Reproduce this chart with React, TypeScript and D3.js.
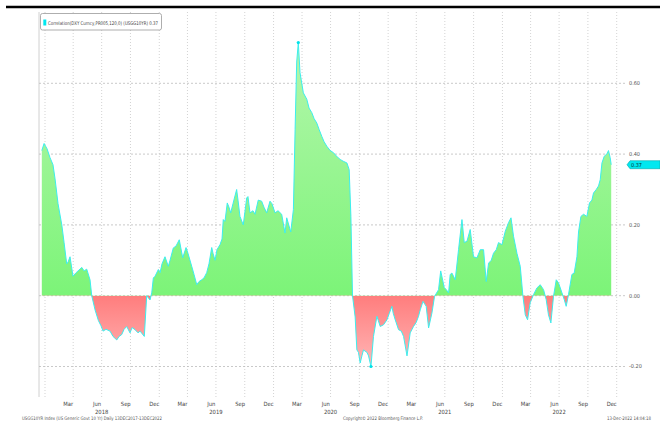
import React from 'react'
import * as d3 from 'd3'

const dates = [
  2017.972, 2017.992, 2018.018, 2018.044, 2018.07, 2018.088, 2018.114, 2018.147, 2018.167, 2018.19,
  2018.202, 2018.219, 2018.245, 2018.272, 2018.289, 2018.322, 2018.342, 2018.365, 2018.394, 2018.409,
  2018.438, 2018.467, 2018.49, 2018.508, 2018.534, 2018.569, 2018.595, 2018.628, 2018.648, 2018.671,
  2018.692, 2018.715, 2018.744, 2018.762, 2018.788, 2018.814, 2018.832, 2018.869, 2018.89, 2018.919,
  2018.934, 2018.948, 2018.963, 2018.992, 2019.007, 2019.024, 2019.05, 2019.079, 2019.094, 2019.123,
  2019.146, 2019.175, 2019.205, 2019.234, 2019.251, 2019.284, 2019.304, 2019.328, 2019.348, 2019.371,
  2019.391, 2019.415, 2019.435, 2019.459, 2019.47, 2019.488, 2019.505, 2019.531, 2019.549, 2019.56,
  2019.575, 2019.595, 2019.61, 2019.625, 2019.645, 2019.677, 2019.689, 2019.706, 2019.735, 2019.765,
  2019.776, 2019.794, 2019.82, 2019.838, 2019.866, 2019.896, 2019.916, 2019.94, 2019.969, 2019.986,
  2020.013, 2020.039, 2020.071, 2020.1, 2020.115, 2020.15, 2020.173, 2020.188, 2020.202, 2020.216,
  2020.231, 2020.26, 2020.29, 2020.31, 2020.334, 2020.354, 2020.377, 2020.397, 2020.421, 2020.441,
  2020.465, 2020.494, 2020.523, 2020.546, 2020.581, 2020.607, 2020.64, 2020.66, 2020.675, 2020.689,
  2020.712, 2020.727, 2020.741, 2020.756, 2020.771, 2020.785, 2020.8, 2020.815, 2020.829, 2020.85,
  2020.872, 2020.902, 2020.914, 2020.931, 2020.96, 2020.99, 2021.01, 2021.033, 2021.045, 2021.062,
  2021.091, 2021.115, 2021.135, 2021.165, 2021.193, 2021.222, 2021.246, 2021.266, 2021.281, 2021.305,
  2021.333, 2021.354, 2021.383, 2021.406, 2021.441, 2021.46, 2021.491, 2021.509, 2021.529, 2021.543,
  2021.558, 2021.587, 2021.616, 2021.646, 2021.666, 2021.69, 2021.718, 2021.747, 2021.777, 2021.806,
  2021.835, 2021.858, 2021.879, 2021.902, 2021.922, 2021.946, 2021.966, 2021.996, 2022.025, 2022.053,
  2022.075, 2022.097, 2022.127, 2022.156, 2022.179, 2022.2, 2022.22, 2022.243, 2022.272, 2022.302,
  2022.331, 2022.36, 2022.383, 2022.403, 2022.424, 2022.447, 2022.471, 2022.491, 2022.521, 2022.541,
  2022.558, 2022.578, 2022.608, 2022.628, 2022.652, 2022.666, 2022.687, 2022.71, 2022.739, 2022.762,
  2022.783, 2022.797, 2022.821, 2022.841, 2022.856, 2022.871, 2022.891, 2022.914, 2022.928, 2022.943,
  2022.952,
]

const values = [
  0.41, 0.43, 0.415, 0.39, 0.37, 0.33, 0.26, 0.2, 0.15, 0.09,
  0.095, 0.11, 0.055, 0.065, 0.07, 0.08, 0.07, 0.075, 0.045, 0.0,
  -0.04, -0.07, -0.085, -0.1, -0.095, -0.1, -0.115, -0.125, -0.115, -0.11,
  -0.095, -0.087, -0.105, -0.09, -0.096, -0.105, -0.1, -0.115, 0.0, -0.012,
  0.008, 0.05, 0.055, 0.074, 0.065, 0.09, 0.11, 0.083, 0.1, 0.135,
  0.14, 0.158, 0.107, 0.136, 0.12, 0.083, 0.06, 0.031, 0.04, 0.045,
  0.05, 0.065, 0.09, 0.136, 0.12, 0.1, 0.13, 0.144, 0.16, 0.215,
  0.21, 0.262, 0.25, 0.234, 0.26, 0.3, 0.27, 0.224, 0.2, 0.276,
  0.28, 0.234, 0.24, 0.23, 0.27, 0.267, 0.25, 0.234, 0.267, 0.26,
  0.234, 0.24, 0.23, 0.177, 0.22, 0.18, 0.243, 0.47, 0.66, 0.715,
  0.63, 0.573, 0.555, 0.53, 0.517, 0.5, 0.488, 0.47, 0.45, 0.435,
  0.422, 0.41, 0.404, 0.395, 0.385, 0.38, 0.375, 0.356, 0.224, 0.0,
  -0.06, -0.153, -0.16, -0.19, -0.17, -0.153, -0.157, -0.16, -0.17, -0.2,
  -0.115, -0.058, -0.07, -0.087, -0.082, -0.068, -0.05, -0.03, -0.05, -0.068,
  -0.096, -0.1, -0.115, -0.17, -0.105, -0.087, -0.075, -0.058, -0.04, -0.016,
  -0.03, -0.091, -0.049, -0.002, 0.017, 0.07, 0.023, 0.017, 0.008, 0.06,
  0.064, 0.045, 0.13, 0.215, 0.15, 0.154, 0.187, 0.11, 0.107, 0.13,
  0.13, 0.04, 0.092, 0.1, 0.12, 0.13, 0.15, 0.144, 0.182, 0.206,
  0.22, 0.168, 0.12, 0.083, 0.0, -0.054, -0.068, -0.02, 0.003, 0.022,
  0.031, 0.017, -0.011, -0.054, -0.077, -0.002, 0.045, 0.036, 0.008, -0.011,
  -0.03, 0.003, 0.06, 0.064, 0.11, 0.18, 0.224, 0.23, 0.224, 0.262,
  0.27, 0.29, 0.3, 0.31, 0.328, 0.375, 0.394, 0.4, 0.41, 0.39,
  0.37,
]

const yTicks = [0.6, 0.4, 0.2, 0.0, -0.2]
const monthLabels = ['Mar', 'Jun', 'Sep', 'Dec']
const years = [2018, 2019, 2020, 2021, 2022]
const lastValue = 0.37
const legendText = 'Correlation(DXY Curncy,PR005,120,0) (USGG10YR) 0.37'
const footerLeft = 'USGG10YR Index (US Generic Govt 10 Yr) Daily 13DEC2017-13DEC2022'
const footerMid = 'Copyright© 2022 Bloomberg Finance L.P.'
const footerRight = '13-Dec-2022 14:04:18'

const toDate = (dy: number) => {
  const y = Math.floor(dy)
  const a = Date.UTC(y, 0, 1)
  const b = Date.UTC(y + 1, 0, 1)
  return new Date(a + (dy - y) * (b - a))
}

const W = 660
const H = 421
const left = 39
const right = 626
const top = 12
const bottom = 397
const font = '"DejaVu Sans Condensed", "Liberation Sans Narrow", sans-serif'

export default function App() {
  const data = dates.map((d, i) => ({ date: toDate(d), v: values[i] }))

  const x = d3.scaleUtc()
    .domain([new Date(Date.UTC(2018, 0, 1)), new Date(Date.UTC(2023, 0, 1))])
    .range([45, 616.7])
  const y = d3.scaleLinear().domain([0, 0.2]).range([295.7, 224.9])

  const area = d3.area<{ date: Date; v: number }>()
    .x(d => x(d.date))
    .y0(y(0))
    .y1(d => y(d.v))
  const line = d3.line<{ date: Date; v: number }>()
    .x(d => x(d.date))
    .y(d => y(d.v))

  const quarterStarts = d3.utcMonth.every(3)!.range(
    new Date(Date.UTC(2018, 0, 1)), new Date(Date.UTC(2023, 0, 2)))
  const labelMonths = d3.utcMonth.range(new Date(Date.UTC(2018, 0, 1)), new Date(Date.UTC(2023, 0, 1)))
    .filter(m => [2, 5, 8, 11].includes(m.getUTCMonth()))

  const maxPt = data.reduce((a, b) => (b.v > a.v ? b : a))
  const minPt = data.reduce((a, b) => (b.v < a.v ? b : a))
  const y0 = y(0)
  const yl = y(lastValue)

  return (
    <svg width={W} height={H} style={{ position: 'absolute', left: 0, top: 0, background: '#fff' }}>
      <defs>
        <linearGradient id="gUp" gradientUnits="userSpaceOnUse" x1="0" x2="0" y1={y(maxPt.v)} y2={y0}>
          <stop offset="0%" stopColor="#b4f6ac" />
          <stop offset="100%" stopColor="#7cf478" />
        </linearGradient>
        <linearGradient id="gDn" gradientUnits="userSpaceOnUse" x1="0" x2="0" y1={y0} y2={y(minPt.v)}>
          <stop offset="0%" stopColor="#ff7d7d" />
          <stop offset="100%" stopColor="#ffb6b6" />
        </linearGradient>
        <clipPath id="cUp"><rect x={left} y={top} width={right - left} height={y0 - top} /></clipPath>
        <clipPath id="cDn"><rect x={left} y={y0} width={right - left} height={bottom - y0} /></clipPath>
      </defs>

      <line x1={6} x2={660} y1={7} y2={7} stroke="#000" strokeWidth={2.5} />

      {quarterStarts.map((d, i) => (
        <line key={'v' + i} x1={x(d)} x2={x(d)} y1={top} y2={bottom}
          stroke="#c8c8c8" strokeWidth={0.8} strokeDasharray="1,2" />
      ))}
      <line x1={left} x2={left} y1={top} y2={bottom} stroke="#d0d0d0" strokeWidth={1} />
      {yTicks.map(t => (
        <line key={'h' + t} x1={left} x2={right} y1={y(t)} y2={y(t)}
          stroke="#bbb" strokeWidth={0.8} strokeDasharray="2,2" />
      ))}

      <path d={area(data)!} fill="url(#gUp)" clipPath="url(#cUp)" />
      <path d={area(data)!} fill="url(#gDn)" clipPath="url(#cDn)" />
      <path d={line(data)!} fill="none" stroke="#3ceeee" strokeWidth={1} />
      <circle cx={x(maxPt.date)} cy={y(maxPt.v)} r={1.6} fill="#00e2ea" />
      <circle cx={x(minPt.date)} cy={y(minPt.v)} r={1.6} fill="#00e2ea" />

      {yTicks.map(t => (
        <text key={'yl' + t} x={629} y={y(t)} dy="0.35em" fontFamily={font} fontSize={5.5} fill="#555">
          {t.toFixed(2)}
        </text>
      ))}

      <path d={`M${627},${yl} L${630},${yl - 4} L${660},${yl - 4} L${660},${yl + 4} L${630},${yl + 4} Z`}
        fill="#00e8f0" stroke="#0aa" strokeWidth={0.6} />
      <text x={631} y={yl} dy="0.35em" fontFamily={font} fontSize={5.5} fill="#033">{lastValue.toFixed(2)}</text>

      <rect x={40.5} y={13.5} width={121} height={16.5} rx={2} fill="#fff" stroke="#999" strokeWidth={0.8} />
      <rect x={43.3} y={19.5} width={3} height={6} fill="#00e8f0" />
      <text x={48} y={24.6} fontFamily={font} fontSize={5} fill="#444" textLength={110} lengthAdjust="spacingAndGlyphs">
        {legendText}
      </text>

      {labelMonths.map((d, i) => (
        <text key={'m' + i} x={x(d3.utcDay.offset(d, 15))} y={406} textAnchor="middle"
          fontFamily={font} fontSize={5.8} fill="#444">
          {monthLabels[[2, 5, 8, 11].indexOf(d.getUTCMonth())]}
        </text>
      ))}
      {years.map(yr => (
        <text key={'y' + yr} x={x(new Date(Date.UTC(yr, 6, 1)))} y={414} textAnchor="middle"
          fontFamily={font} fontSize={5.8} fill="#444">
          {yr}
        </text>
      ))}

      <text x={22} y={420} fontFamily={font} fontSize={4.8} fill="#555" textLength={140} lengthAdjust="spacingAndGlyphs">{footerLeft}</text>
      <text x={343} y={420} fontFamily={font} fontSize={4.8} fill="#555" textLength={80} lengthAdjust="spacingAndGlyphs">{footerMid}</text>
      <text x={607} y={420} fontFamily={font} fontSize={4.8} fill="#555" textLength={44} lengthAdjust="spacingAndGlyphs">{footerRight}</text>
    </svg>
  )
}
